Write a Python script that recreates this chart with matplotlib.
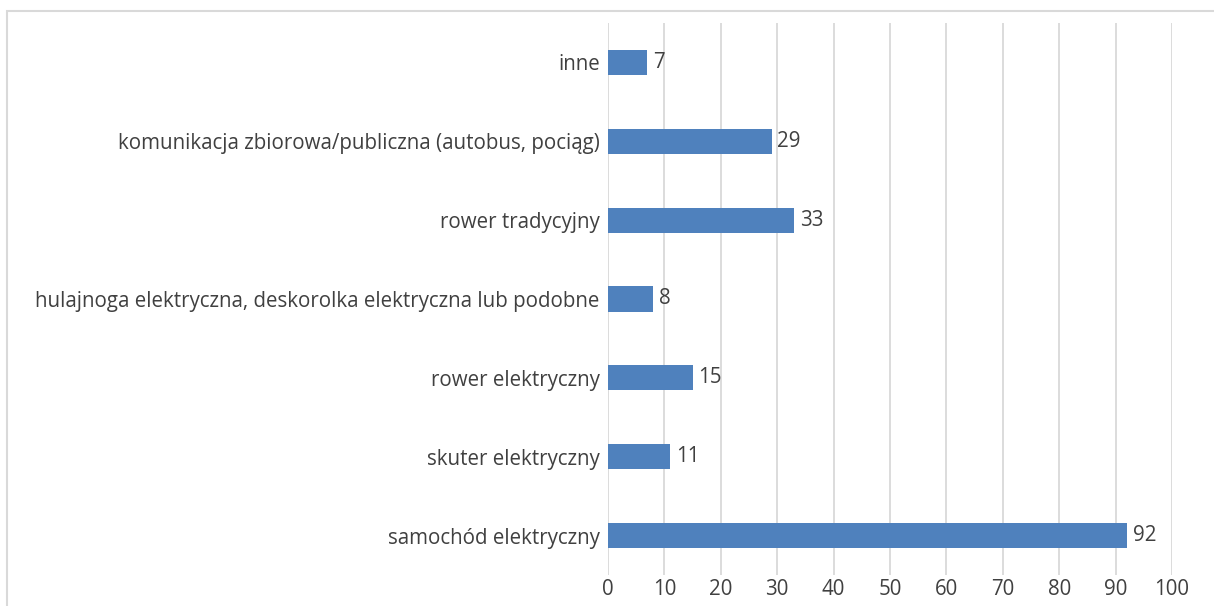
import matplotlib.pyplot as plt
from matplotlib.patches import Rectangle

categories = [
    "samochód elektryczny",
    "skuter elektryczny",
    "rower elektryczny",
    "hulajnoga elektryczna, deskorolka elektryczna lub podobne",
    "rower tradycyjny",
    "komunikacja zbiorowa/publiczna (autobus, pociąg)",
    "inne",
]
values = [92, 11, 15, 8, 33, 29, 7]
xticks = [0, 10, 20, 30, 40, 50, 60, 70, 80, 90, 100]

plt.rcParams['font.family'] = ['Open Sans', 'DejaVu Sans']
text_col = '#404040'
fs = 14.8

fig = plt.figure(figsize=(12.14, 6.06), dpi=100)
ax = fig.add_axes([608 / 1214, 1 - 575 / 606, (1172 - 608) / 1214, (575 - 23) / 606])

pos = range(len(categories))
ax.barh(pos, values, height=0.32, color='#4F81BD', zorder=3)
for p, v in zip(pos, values):
    ax.text(v + 1, p, str(v), va='center', ha='left', fontsize=fs, color=text_col)

ax.set_xlim(0, 100)
ax.set_ylim(-0.5, len(categories) - 0.5)
ax.set_xticks(xticks)
ax.set_xticklabels([str(t) for t in xticks], fontsize=fs, color=text_col)
ax.set_yticks(list(pos))
ax.set_yticklabels(categories, fontsize=fs, color=text_col)
ax.tick_params(axis='x', length=0, pad=3)
ax.tick_params(axis='y', length=0, pad=6)
ax.grid(axis='x', color='#D9D9D9', linewidth=1.3, zorder=0)
for s in ax.spines.values():
    s.set_visible(False)

# outer chart border
fig.patches.append(Rectangle((7 / 1214, -0.05), 1.1, 1 - 11 / 606 + 0.05,
                             transform=fig.transFigure, fill=False,
                             edgecolor='#D9D9D9', linewidth=1.5))

fig.savefig('out.png', dpi=100)
